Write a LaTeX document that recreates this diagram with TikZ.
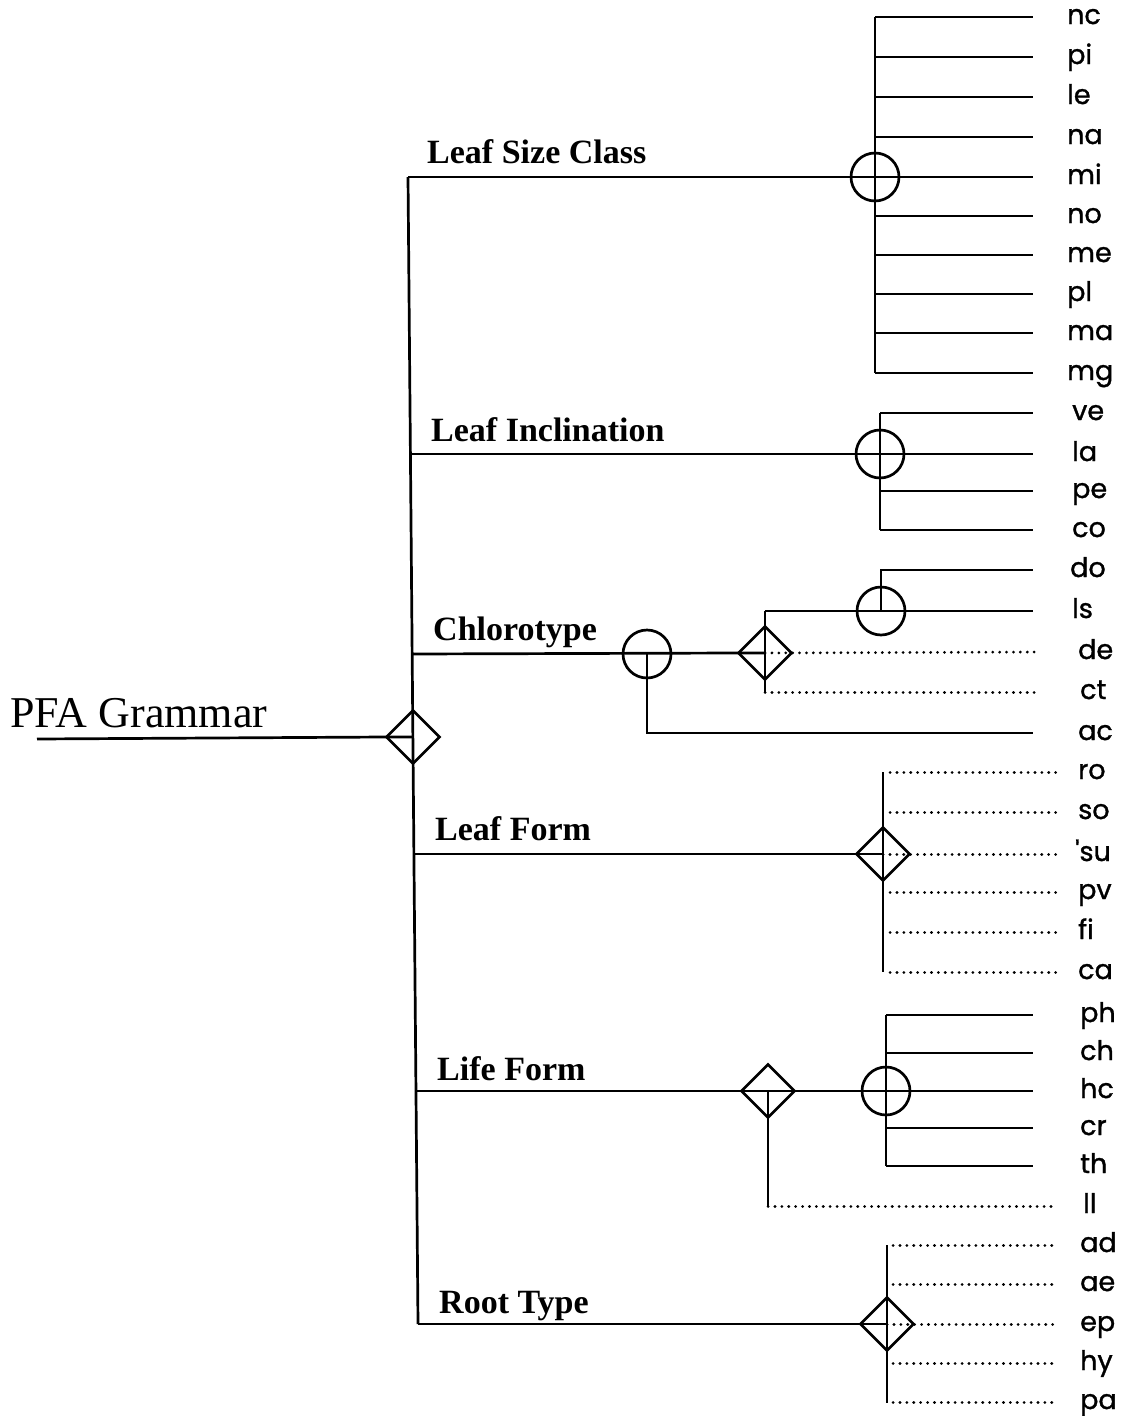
\documentclass[tikz,border=0pt]{standalone}
\usepackage{fontspec}
\setmainfont{Liberation Serif}
\newfontfamily\lblfont[FakeBold=1.2]{Poppins}
\usetikzlibrary{shapes.geometric}
\begin{document}
\begin{tikzpicture}[x=1pt,y=-1pt,
  ln/.style={line width=2.7pt},
  dl/.style={line width=3pt, dash pattern=on 0.1pt off 6.8pt, line cap=round},
  orc/.style={circle, draw, line width=2.7pt, minimum size=48pt, inner sep=0pt},
  xd/.style={diamond, draw, line width=2.7pt, minimum width=54pt, minimum height=54pt, inner sep=0pt},
  br/.style={font=\fontsize{34}{40}\selectfont\bfseries, anchor=base west, inner sep=0pt},
  lf/.style={font=\lblfont\fontsize{27}{32}\selectfont, anchor=base west, inner sep=0pt}]
\useasboundingbox (0,0) rectangle (1121,1416);

% trunk
\coordinate (t1) at (408,177);
\coordinate (t2) at (410,454);
\coordinate (t3) at (412,654);
\coordinate (t4) at (414,854);
\coordinate (t5) at (416,1091);
\coordinate (t6) at (418,1324);
\draw[ln] (t1) -- (t6);

% root
\node[xd] (root) at (413,737) {};
\node[anchor=base west, inner sep=0pt, font=\fontsize{44}{52}\selectfont] (pfa) at (10,727) {PFA Grammar};
\coordinate (pfaS) at (37,739);
\draw[ln] (pfaS) -- (root.west) -- (root.center);

% ---- Leaf Size Class
\node[br] (b1) at (427,163) {Leaf Size Class};
\node[orc] (c1) at (875,177) {};
\coordinate (v1a) at (875,17);
\coordinate (v1b) at (875,373);
\draw[ln] (t1) -- (c1.center);
\draw[ln] (v1a) -- (v1b);
\foreach \y/\t [count=\i] in {17/nc,57/pi,97/le,137/na,177/mi,216/no,255/me,294/pl,333/ma,373/mg}{
  \coordinate (e1\i) at (1033,\y);
  \draw[ln] (v1a |- e1\i) -- (e1\i);
  \node[lf] (l1\i) at (1067,\y+7) {\t};
}

% ---- Leaf Inclination
\node[br] (b2) at (431,441) {Leaf Inclination};
\node[orc] (c2) at (880,454) {};
\coordinate (v2a) at (880,413);
\coordinate (v2b) at (880,530);
\draw[ln] (t2) -- (c2.center);
\draw[ln] (v2a) -- (v2b);
\foreach \y/\t [count=\i] in {413/ve,454/la,491/pe,530/co}{
  \coordinate (e2\i) at (1033,\y);
  \draw[ln] (v2a |- e2\i) -- (e2\i);
  \node[lf] (l2\i) at (1072,\y+7) {\t};
}

% ---- Chlorotype
\node[br] (b3) at (433,640) {Chlorotype};
\node[orc] (c3) at (647,654) {};
\node[xd] (d3) at (765,653) {};
\draw[ln] (t3) -- (d3.west) -- (d3.center);
\coordinate (eac) at (1033,733);
\draw[ln] (c3.center) |- (eac);
\coordinate (d3t) at (765,611);
\coordinate (d3b) at (765,692);
\draw[ln] (d3t) -- (d3b);
\node[orc] (c4) at (881,611) {};
\coordinate (els) at (1033,611);
\draw[ln] (d3t) -- (els);
\coordinate (edo) at (1033,570);
\draw[ln] (c4.center) |- (edo);
\coordinate (ede) at (1040,652);
\draw[dl] (d3.center) -- (ede);
\coordinate (ect) at (1040,692);
\draw[dl] (d3b) -- (ect);
\node[lf] (ldo) at (1070,577) {do};
\node[lf] (lls) at (1072,618) {ls};
\node[lf] (lde) at (1078,659) {de};
\node[lf] (lct) at (1080,699) {ct};
\node[lf] (lac) at (1078,740) {ac};

% ---- Leaf Form
\node[br] (b4) at (435,840) {Leaf Form};
\node[xd] (d4) at (883,854) {};
\draw[ln] (t4) -- (d4.west) -- (d4.center);
\coordinate (v4a) at (883,772);
\coordinate (v4b) at (883,972);
\draw[ln] (v4a) -- (v4b);
\coordinate (esu) at (1062,854);
\draw[dl] (d4.center) -- (esu);
\foreach \y/\t [count=\i] in {772/ro,812/so,892/pv,932/fi,972/ca}{
  \coordinate (s4\i) at (890,\y);
  \coordinate (e4\i) at (1062,\y);
  \draw[dl] (s4\i) -- (e4\i);
  \node[lf] (l4\i) at (1078,\y+7) {\t};
}
\node[lf] (lsu) at (1075,861) {\char"27 su};

% ---- Life Form
\node[br] (b5) at (437,1080) {Life Form};
\node[xd] (d5) at (768,1091) {};
\node[orc] (c5) at (886,1091) {};
\coordinate (v5a) at (886,1015);
\coordinate (v5b) at (886,1166);
\draw[ln] (t5) -- (c5.center);
\draw[ln] (v5a) -- (v5b);
\foreach \y/\t [count=\i] in {1015/ph,1053/ch,1091/hc,1128/cr,1166/th}{
  \coordinate (e5\i) at (1033,\y);
  \draw[ln] (v5a |- e5\i) -- (e5\i);
  \node[lf] (l5\i) at (1080,\y+7) {\t};
}
\coordinate (k5) at (768,1206);
\coordinate (ell) at (1055,1206);
\draw[ln] (d5.center) -- (k5);
\draw[dl] (k5) -- (ell);
\node[lf] (lll) at (1083,1213) {ll};

% ---- Root Type
\node[br] (b6) at (439,1313) {Root Type};
\node[xd] (d6) at (887,1324) {};
\draw[ln] (t6) -- (d6.west) -- (d6.center);
\coordinate (v6a) at (887,1245);
\coordinate (v6b) at (887,1403);
\draw[ln] (v6a) -- (v6b);
\coordinate (eep) at (1055,1324);
\draw[dl] (d6.center) -- (eep);
\foreach \y/\t [count=\i] in {1245/ad,1284/ae,1363/hy,1402/pa}{
  \coordinate (s6\i) at (893,\y);
  \coordinate (e6\i) at (1055,\y);
  \draw[dl] (s6\i) -- (e6\i);
  \node[lf] (l6\i) at (1080,\y+7) {\t};
}
\node[lf] (lep) at (1080,1331) {ep};
\end{tikzpicture}
\end{document}
